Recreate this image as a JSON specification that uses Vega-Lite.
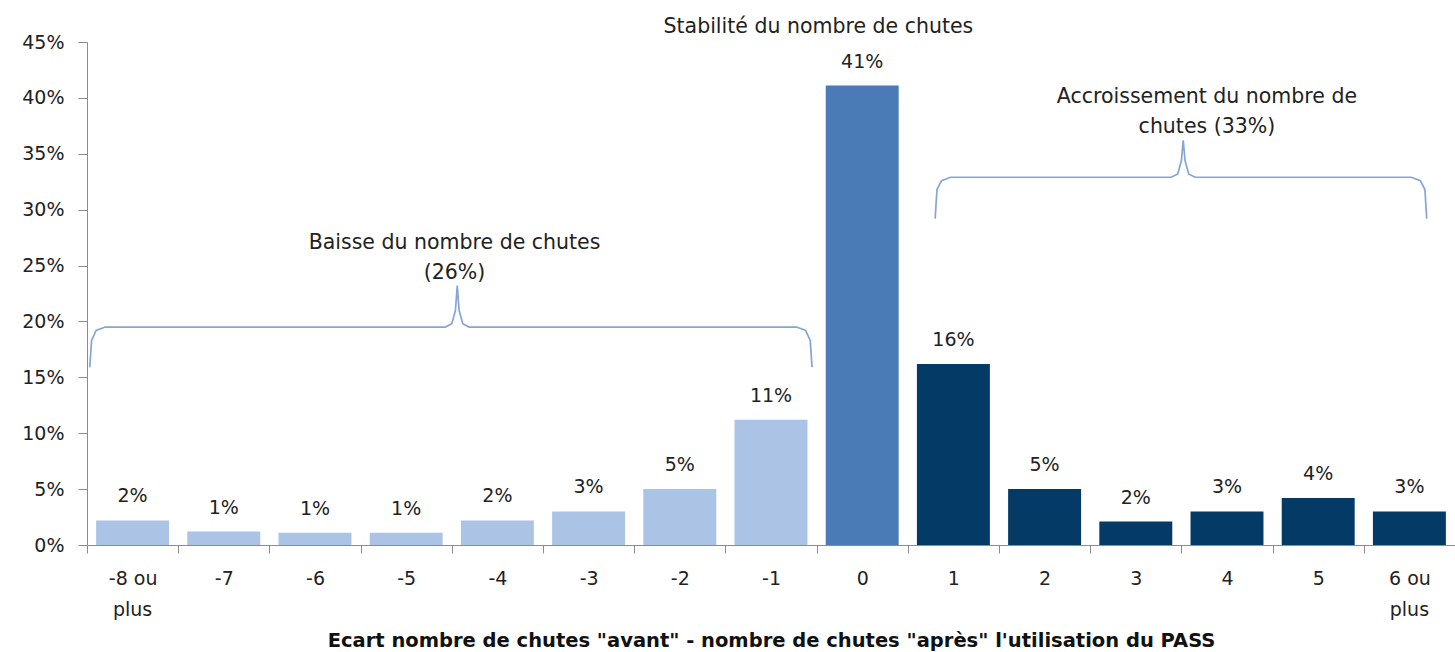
{
  "$schema": "https://vega.github.io/schema/vega-lite/v6.json",
  "width": 1368,
  "height": 503,
  "autosize": "none",
  "padding": {"left": 87, "top": 42, "right": 0, "bottom": 107},
  "background": "white",
  "config": {
    "view": {"stroke": null},
    "font": "DejaVu Sans",
    "axis": {"labelFont": "DejaVu Sans", "titleFont": "DejaVu Sans", "labelColor": "#222", "titleColor": "#111", "domainColor": "#8c8c8c", "tickColor": "#8c8c8c", "grid": false}
  },
  "datasets": {
    "dsBars": [
      {"cat": "-8 ou", "v": 0.022, "grp": "baisse"},
      {"cat": "-7", "v": 0.012, "grp": "baisse"},
      {"cat": "-6", "v": 0.011, "grp": "baisse"},
      {"cat": "-5", "v": 0.011, "grp": "baisse"},
      {"cat": "-4", "v": 0.022, "grp": "baisse"},
      {"cat": "-3", "v": 0.03, "grp": "baisse"},
      {"cat": "-2", "v": 0.05, "grp": "baisse"},
      {"cat": "-1", "v": 0.112, "grp": "baisse"},
      {"cat": "0", "v": 0.411, "grp": "stable"},
      {"cat": "1", "v": 0.162, "grp": "hausse"},
      {"cat": "2", "v": 0.05, "grp": "hausse"},
      {"cat": "3", "v": 0.021, "grp": "hausse"},
      {"cat": "4", "v": 0.03, "grp": "hausse"},
      {"cat": "5", "v": 0.042, "grp": "hausse"},
      {"cat": "6 ou", "v": 0.03, "grp": "hausse"}
    ],
    "dsPlus": [
      {"cat": "-8 ou", "t": "plus"},
      {"cat": "6 ou", "t": "plus"}
    ],
    "dsBraces": [
      {"b": "L", "i": 0, "bx": 0.03, "by": 0.159},
      {"b": "L", "i": 1, "bx": 0.05, "by": 0.183},
      {"b": "L", "i": 2, "bx": 0.1, "by": 0.192},
      {"b": "L", "i": 3, "bx": 0.2, "by": 0.195},
      {"b": "L", "i": 4, "bx": 3.93, "by": 0.195},
      {"b": "L", "i": 5, "bx": 4.0, "by": 0.198},
      {"b": "L", "i": 6, "bx": 4.04, "by": 0.21},
      {"b": "L", "i": 7, "bx": 4.06, "by": 0.232},
      {"b": "L", "i": 8, "bx": 4.08, "by": 0.21},
      {"b": "L", "i": 9, "bx": 4.12, "by": 0.198},
      {"b": "L", "i": 10, "bx": 4.19, "by": 0.195},
      {"b": "L", "i": 11, "bx": 7.78, "by": 0.195},
      {"b": "L", "i": 12, "bx": 7.88, "by": 0.192},
      {"b": "L", "i": 13, "bx": 7.93, "by": 0.183},
      {"b": "L", "i": 14, "bx": 7.95, "by": 0.159},
      {"b": "R", "i": 0, "bx": 9.3, "by": 0.292},
      {"b": "R", "i": 1, "bx": 9.32, "by": 0.318},
      {"b": "R", "i": 2, "bx": 9.37, "by": 0.326},
      {"b": "R", "i": 3, "bx": 9.47, "by": 0.329},
      {"b": "R", "i": 4, "bx": 11.89, "by": 0.329},
      {"b": "R", "i": 5, "bx": 11.96, "by": 0.332},
      {"b": "R", "i": 6, "bx": 12.0, "by": 0.344},
      {"b": "R", "i": 7, "bx": 12.02, "by": 0.362},
      {"b": "R", "i": 8, "bx": 12.04, "by": 0.344},
      {"b": "R", "i": 9, "bx": 12.08, "by": 0.332},
      {"b": "R", "i": 10, "bx": 12.15, "by": 0.329},
      {"b": "R", "i": 11, "bx": 14.52, "by": 0.329},
      {"b": "R", "i": 12, "bx": 14.62, "by": 0.326},
      {"b": "R", "i": 13, "bx": 14.67, "by": 0.318},
      {"b": "R", "i": 14, "bx": 14.69, "by": 0.292}
    ],
    "dsNotes": [
      {"tx": 4.03, "ty": 0.2705, "t": "Baisse du nombre de chutes\n(26%)"},
      {"tx": 12.28, "ty": 0.4007, "t": "Accroissement du nombre de\nchutes (33%)"},
      {"tx": 8.02, "ty": 0.4635, "t": "Stabilité du nombre de chutes"}
    ]
  },
  "layer": [
    {
      "layer": [
        {
          "data": {"name": "dsBars"},
          "mark": {"type": "bar", "width": {"band": 0.8}},
          "encoding": {
            "x": {
              "field": "cat", "type": "nominal", "sort": null,
              "scale": {"paddingInner": 0, "paddingOuter": 0},
              "axis": {
                "orient": "bottom",
                "title": "Ecart nombre de chutes \"avant\" - nombre de chutes \"après\" l'utilisation du PASS",
                "titleFontSize": 19.5, "titleFontWeight": "bold", "titlePadding": 43,
                "labelAngle": 0, "labelFontSize": 19, "labelPadding": 16,
                "tickBand": "extent", "tickSize": 8
              }
            },
            "y": {
              "field": "v", "type": "quantitative",
              "scale": {"domain": [0, 0.45]},
              "axis": {"title": null, "format": ".0%", "values": [0, 0.05, 0.1, 0.15, 0.2, 0.25, 0.3, 0.35, 0.4, 0.45], "labelFontSize": 19, "tickSize": 9, "labelPadding": 14}
            },
            "color": {
              "field": "grp", "type": "nominal", "legend": null,
              "scale": {"domain": ["baisse", "stable", "hausse"], "range": ["#abc4e6", "#4a7bb6", "#043a66"]}
            }
          }
        },
        {
          "data": {"name": "dsBars"},
          "mark": {"type": "text", "baseline": "alphabetic", "dy": -18, "fontSize": 19, "color": "#222"},
          "encoding": {
            "x": {"field": "cat", "type": "nominal", "sort": null},
            "y": {"field": "v", "type": "quantitative"},
            "text": {"field": "v", "type": "quantitative", "format": ".0%"}
          }
        },
        {
          "data": {"name": "dsPlus"},
          "mark": {"type": "text", "baseline": "middle", "fontSize": 19, "color": "#222"},
          "encoding": {
            "x": {"field": "cat", "type": "nominal", "sort": null},
            "y": {"datum": -0.058, "type": "quantitative"},
            "text": {"field": "t"}
          }
        }
      ]
    },
    {
      "data": {"name": "dsBraces"},
      "mark": {"type": "line", "color": "#85a5d2", "strokeWidth": 1.7},
      "encoding": {
        "x": {"field": "bx", "type": "quantitative", "scale": {"domain": [0, 15], "nice": false, "zero": false}, "axis": null},
        "y": {"field": "by", "type": "quantitative"},
        "detail": {"field": "b", "type": "nominal"},
        "order": {"field": "i", "type": "quantitative"}
      }
    },
    {
      "data": {"name": "dsNotes"},
      "mark": {"type": "text", "lineBreak": "\n", "fontSize": 20.5, "lineHeight": 30, "color": "#222", "baseline": "middle"},
      "encoding": {
        "x": {"field": "tx", "type": "quantitative", "scale": {"domain": [0, 15], "nice": false, "zero": false}, "axis": null},
        "y": {"field": "ty", "type": "quantitative"},
        "text": {"field": "t"}
      }
    }
  ],
  "resolve": {"scale": {"x": "independent"}}
}
